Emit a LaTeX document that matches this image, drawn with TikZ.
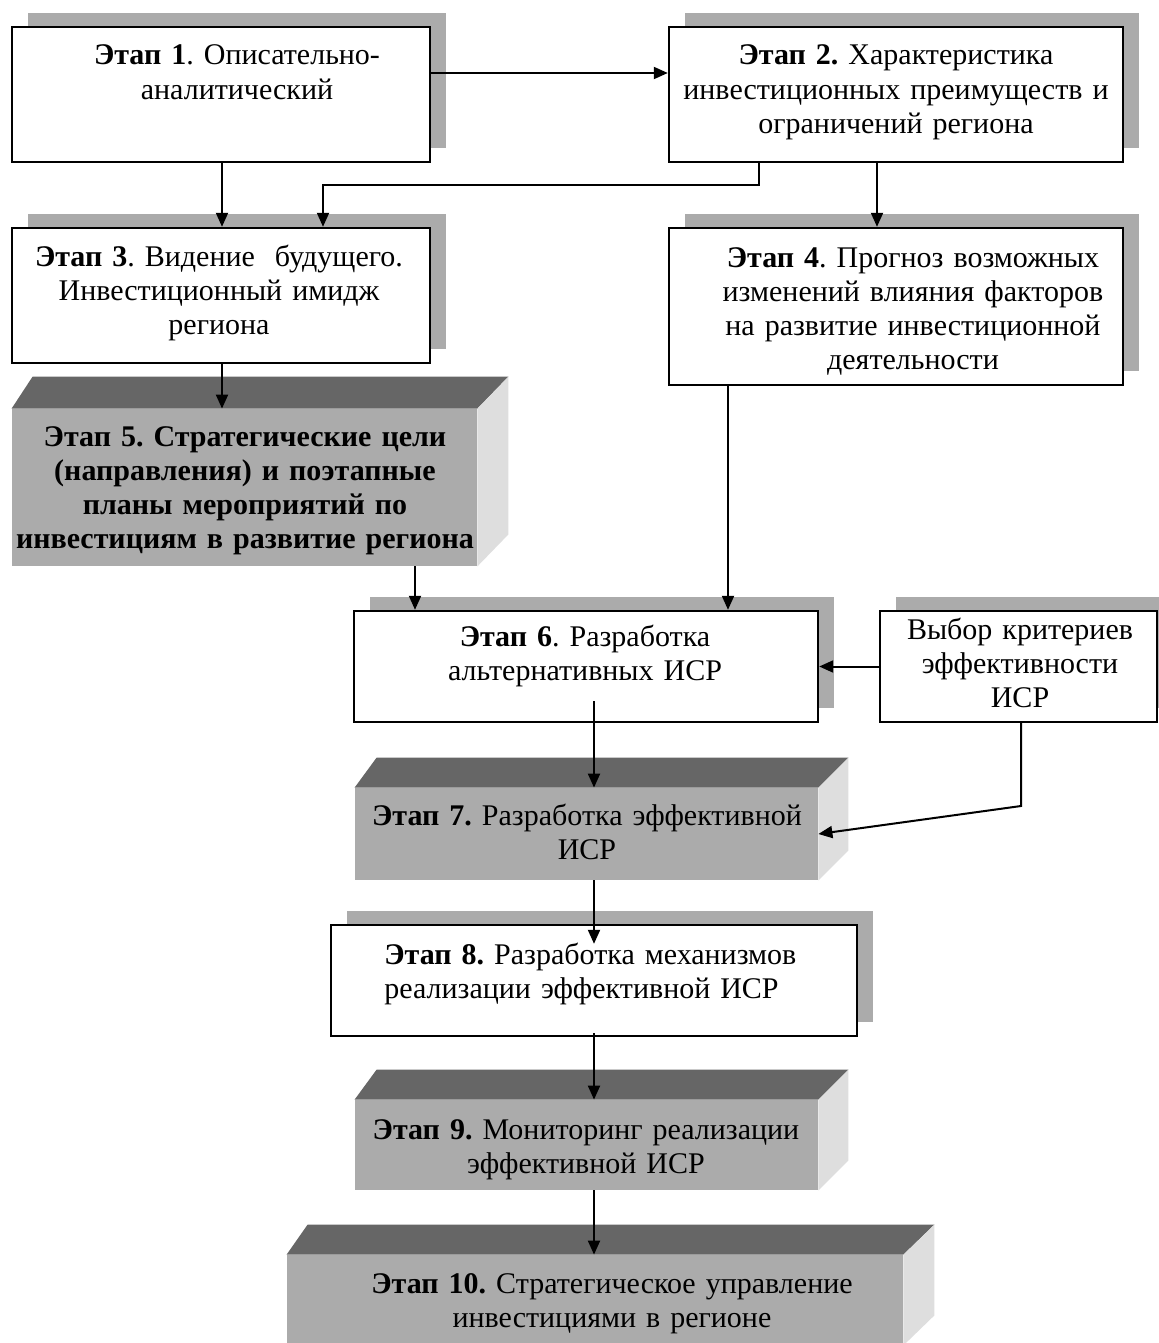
\documentclass[tikz,border=0pt]{standalone}
\usepackage{fontspec}
\setmainfont{Liberation Serif}
\usetikzlibrary{arrows.meta,calc}
\definecolor{shadowgray}{HTML}{ABABAB}
\definecolor{frontgray}{HTML}{ABABAB}
\definecolor{topgray}{HTML}{666666}
\definecolor{sidegray}{HTML}{DEDEDE}
\tikzset{
  flatbox/.style={draw=black,line width=1.2pt,fill=white,inner sep=0pt,rectangle},
  shadowbox/.style={fill=shadowgray,draw=none,inner sep=0pt,rectangle},
  frontbox/.style={fill=frontgray,draw=none,inner sep=0pt,rectangle},
  topface/.style={fill=topgray,draw=none},
  sideface/.style={fill=sidegray,draw=none},
  boxtext/.style={inner sep=0pt,anchor=base,text width=300pt,align=center,
    font=\fontsize{15pt}{17.1pt}\selectfont\frenchspacing},
  arr/.style={line width=1pt,-{Triangle[length=7pt,width=6pt]}},
  ln/.style={line width=1pt}
}
\newcommand{\fb}[1]{\textbf{#1}}
\begin{document}
\begin{tikzpicture}[x=0.5pt,y=-0.5pt]
\useasboundingbox (0,0) rectangle (1158,1343);
\fill[white] (0,0) rectangle (1158,1343);

% ---------- flat boxes with shadows ----------
% Box 1
\node[shadowbox,minimum width=209pt,minimum height=67.5pt] (S1) at (237,80.5) {};
\node[flatbox,minimum width=209pt,minimum height=67.5pt] (B1) at (221,94.5) {};
% Box 2
\node[shadowbox,minimum width=227pt,minimum height=67.5pt] (S2) at (912,80.5) {};
\node[flatbox,minimum width=227pt,minimum height=67.5pt] (B2) at (896,94.5) {};
% Box 3
\node[shadowbox,minimum width=209pt,minimum height=67.5pt] (S3) at (237,281.5) {};
\node[flatbox,minimum width=209pt,minimum height=67.5pt] (B3) at (221,295.5) {};
% Box 4
\node[shadowbox,minimum width=227pt,minimum height=78.5pt] (S4) at (912,292.5) {};
\node[flatbox,minimum width=227pt,minimum height=78.5pt] (B4) at (896,306.5) {};
% Box 6
\node[shadowbox,minimum width=232pt,minimum height=55.5pt] (S6) at (602,652.5) {};
\node[flatbox,minimum width=232pt,minimum height=55.5pt] (B6) at (586,666.5) {};
% Criteria box
\node[shadowbox,minimum width=138.5pt,minimum height=55.5pt] (SK) at (1034.5,652.5) {};
\node[flatbox,minimum width=138.5pt,minimum height=55.5pt] (BK) at (1018.5,666.5) {};
% Box 8
\node[shadowbox,minimum width=263pt,minimum height=55.5pt] (S8) at (610,966.5) {};
\node[flatbox,minimum width=263pt,minimum height=55.5pt] (B8) at (594,980.5) {};

% ---------- 3D boxes ----------
% Box 5
\node[frontbox,minimum width=232.5pt,minimum height=78.5pt] (B5) at (244.5,487.5) {};
\fill[topface] (B5.north west) -- (B5.north east) -- ($(B5.north east)+(31,-32)$) -- ($(B5.north west)+(21,-32)$) -- cycle;
\fill[sideface] (B5.north east) -- ($(B5.north east)+(31,-32)$) -- ($(B5.south east)+(31,-32)$) -- (B5.south east) -- cycle;
% Box 7
\node[frontbox,minimum width=231.5pt,minimum height=46pt] (B7) at (586.5,834) {};
\fill[topface] (B7.north west) -- (B7.north east) -- ($(B7.north east)+(30,-30)$) -- ($(B7.north west)+(22,-30)$) -- cycle;
\fill[sideface] (B7.north east) -- ($(B7.north east)+(30,-30)$) -- ($(B7.south east)+(30,-30)$) -- (B7.south east) -- cycle;
% Box 9
\node[frontbox,minimum width=231.5pt,minimum height=45pt] (B9) at (586.5,1145) {};
\fill[topface] (B9.north west) -- (B9.north east) -- ($(B9.north east)+(30,-30)$) -- ($(B9.north west)+(22,-30)$) -- cycle;
\fill[sideface] (B9.north east) -- ($(B9.north east)+(30,-30)$) -- ($(B9.south east)+(30,-30)$) -- (B9.south east) -- cycle;
% Box 10
\node[frontbox,minimum width=308pt,minimum height=45pt] (B10) at (595,1300) {};
\fill[topface] (B10.north west) -- (B10.north east) -- ($(B10.north east)+(31,-30)$) -- ($(B10.north west)+(21,-30)$) -- cycle;
\fill[sideface] (B10.north east) -- ($(B10.north east)+(31,-30)$) -- ($(B10.south east)+(31,-30)$) -- (B10.south east) -- cycle;

% ---------- texts ----------
\node[boxtext] (T1) at (237,65) {\fb{Этап 1}. Описательно-\\аналитический};
\node[boxtext] (T2) at (896,65) {\fb{Этап 2.} Характеристика\\инвестиционных преимуществ и\\ограничений региона};
\node[boxtext] (T3) at (219,266) {\fb{Этап 3}. Видение\ \ будущего.\\Инвестиционный имидж\\региона};
\node[boxtext] (T4) at (913,267) {\fb{Этап 4}. Прогноз возможных\\изменений влияния факторов\\на развитие инвестиционной\\деятельности};
\node[boxtext] (T5) at (245,446) {\bfseries Этап 5. Стратегические цели\\(направления) и поэтапные\\планы мероприятий по\\инвестициям в развитие региона};
\node[boxtext] (T6) at (585,646) {\fb{Этап 6}. Разработка\\альтернативных ИСР};
\node[boxtext] (TK) at (1020,639) {Выбор критериев\\эффективности\\ИСР};
\node[boxtext] (T7) at (587,825) {\fb{Этап 7.} Разработка эффективной\\ИСР};
\node[boxtext,align=left,anchor=base west,text width=230pt] (T8) at (384,964) {\fb{Этап 8.} Разработка механизмов\\реализации эффективной ИСР};
\node[boxtext] (T9) at (586,1139) {\fb{Этап 9.} Мониторинг реализации\\эффективной ИСР};
\node[boxtext] (T10) at (612,1293) {\fb{Этап 10.} Стратегическое управление\\инвестициями в регионе};

% ---------- connectors ----------
\draw[arr] (B1.east |- 0,73) -- (B2.west |- 0,73);
\draw[arr] (B1.south -| 222,0) -- (B3.north -| 222,0);
\draw[arr] (B2.south -| 759,0) |- (323,185) -- (B3.north -| 323,0);
\draw[arr] (B2.south -| 877,0) -- (B4.north -| 877,0);
\draw[arr] (B3.south -| 222,0) -- (B5.north -| 222,0);
\draw[arr] (B4.south -| 728,0) -- (B6.north -| 728,0);
\draw[arr] (B5.south -| 415,0) -- (B6.north -| 415,0);
\draw[arr] (BK.west) -- (B6.east);
\draw[arr] (BK.south -| 1021,0) -- (1021,806) -- (B7.east);
\draw[arr] ($(B6.south -| 594,0)+(0,-22)$) -- (B7.north -| 594,0);
\draw[arr] (B7.south -| 594,0) -- ($(B8.north -| 594,0)+(0,20)$);
\draw[arr] ($(B8.south -| 594,0)+(0,-4)$) -- (B9.north -| 594,0);
\draw[arr] (B9.south -| 594,0) -- (B10.north -| 594,0);
\end{tikzpicture}
\end{document}
